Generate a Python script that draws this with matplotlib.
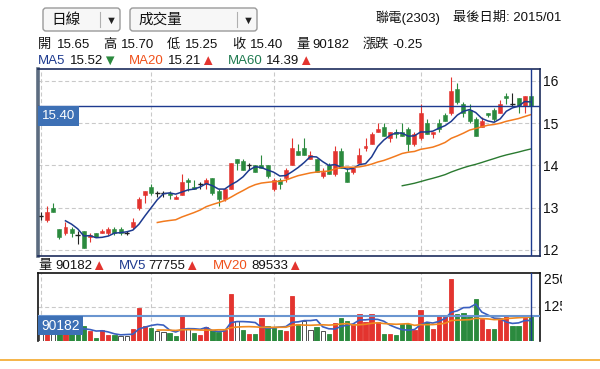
import numpy as np
import pandas as pd
import matplotlib
matplotlib.use("Agg")
import matplotlib.pyplot as plt
import matplotlib.transforms as mtrans
from matplotlib.patches import FancyBboxPatch, Rectangle

plt.rcParams["font.family"] = ["Liberation Sans", "Noto Sans CJK TC", "DejaVu Sans"]

# 聯電(2303) 日線 -- 81 個交易日, 讀自畫面
open_ = [12.80, 12.70, 13.00, 12.50, 12.40, 12.50, 12.35, 12.45, 12.30, 12.40,
         12.40, 12.40, 12.50, 12.50, 12.40, 12.55, 13.00, 13.30, 13.50, 13.35,
         13.35, 13.35, 13.20, 13.30, 13.65, 13.50, 13.55, 13.55, 13.70, 13.40,
         13.20, 13.45, 14.15, 14.10, 14.00, 14.00, 14.00, 14.00, 13.45, 13.65,
         13.70, 14.00, 14.35, 14.40, 14.15, 14.15, 13.75, 14.00, 13.80, 14.35,
         13.85, 13.85, 14.05, 14.40, 14.50, 14.80, 14.90, 14.65, 14.80, 14.80,
         14.85, 14.50, 14.65, 15.00, 14.75, 15.00, 15.20, 15.25, 15.80, 15.45,
         15.30, 15.10, 14.90, 15.25, 15.30, 15.25, 15.65, 15.45, 15.60, 15.40,
         15.65]
high = [12.90, 13.05, 13.10, 12.50, 12.65, 12.55, 12.45, 12.45, 12.40, 12.40,
        12.50, 12.55, 12.55, 12.55, 12.45, 12.75, 13.25, 13.40, 13.55, 13.40,
        13.40, 13.40, 13.30, 13.80, 13.70, 13.65, 13.60, 13.70, 13.70, 13.45,
        13.45, 14.05, 14.15, 14.15, 14.05, 14.00, 14.25, 14.00, 13.70, 13.70,
        13.95, 14.65, 14.50, 14.65, 14.35, 14.15, 13.95, 14.05, 14.45, 14.40,
        13.95, 13.95, 14.40, 14.65, 14.80, 15.00, 15.00, 14.80, 14.85, 15.00,
        14.90, 14.80, 15.45, 15.10, 14.80, 15.10, 15.25, 16.10, 15.95, 15.50,
        15.45, 15.15, 15.15, 15.25, 15.35, 15.55, 15.70, 15.70, 15.60, 15.65,
        15.70]
low = [12.70, 12.65, 12.90, 12.25, 12.35, 12.30, 12.15, 12.05, 12.20, 12.30,
       12.40, 12.35, 12.35, 12.35, 12.35, 12.50, 12.95, 13.10, 13.30, 13.25,
       13.25, 13.20, 13.20, 13.30, 13.40, 13.45, 13.45, 13.45, 13.30, 13.05,
       13.15, 13.45, 13.90, 13.90, 13.90, 13.85, 13.95, 13.70, 13.40, 13.45,
       13.60, 14.00, 14.25, 14.25, 14.15, 13.85, 13.70, 13.80, 13.75, 13.95,
       13.60, 13.80, 14.05, 14.35, 14.50, 14.80, 14.70, 14.55, 14.65, 14.70,
       14.35, 14.45, 14.60, 14.75, 14.65, 14.80, 15.05, 15.20, 15.45, 15.15,
       15.00, 14.70, 14.90, 15.15, 15.05, 15.25, 15.45, 15.40, 15.25, 15.25,
       15.25]
close = [12.80, 12.90, 12.90, 12.30, 12.55, 12.40, 12.35, 12.05, 12.35, 12.30,
         12.45, 12.50, 12.40, 12.40, 12.40, 12.65, 13.20, 13.40, 13.35, 13.35,
         13.35, 13.30, 13.25, 13.60, 13.60, 13.45, 13.55, 13.65, 13.35, 13.20,
         13.45, 14.05, 14.05, 13.90, 14.00, 13.85, 13.95, 13.75, 13.65, 13.55,
         13.90, 14.40, 14.25, 14.25, 14.25, 13.85, 13.85, 13.80, 14.35, 13.95,
         13.60, 13.95, 14.25, 14.45, 14.75, 14.85, 14.70, 14.80, 14.75, 14.70,
         14.50, 14.75, 15.25, 14.75, 14.80, 14.85, 15.05, 15.75, 15.50, 15.25,
         15.05, 14.70, 15.05, 15.20, 15.10, 15.45, 15.60, 15.45, 15.40, 15.65,
         15.40]
# 成交量 (張)
volume = [30000, 45000, 35000, 50000, 40000, 35000, 45000, 55000, 36000, 12000,
          40000, 23000, 21000, 17000, 18000, 45000, 121000, 54000, 48000, 36000,
          33000, 31000, 17000, 97000, 49000, 31000, 21000, 51000, 39000, 33000,
          39000, 174000, 72000, 39000, 27000, 27000, 86000, 55000, 49000, 39000,
          36000, 164000, 64000, 72000, 39000, 51000, 36000, 27000, 67000, 86000,
          74000, 61000, 98000, 70000, 98000, 70000, 27000, 27000, 23000, 61000,
          61000, 39000, 115000, 70000, 45000, 91000, 94000, 227000, 98000, 103000,
          94000, 156000, 80000, 45000, 45000, 86000, 92000, 55000, 55000, 86000,
          90182]

price_ticks = [12, 13, 14, 15, 16]
vol_ticks = [125, 250]
month_starts = [0, 18, 38, 62]
last_price = 15.40
last_volume = 90182

df = pd.DataFrame({"open": open_, "high": high, "low": low,
                   "close": close, "volume": volume})
df["vol_k"] = df.volume / 1000
x = np.arange(len(df))
ma5 = df.close.rolling(5).mean()
ma20 = df.close.rolling(20).mean()
ma60 = df.close.rolling(60).mean()
mv5 = df.vol_k.rolling(5).mean()
mv20 = df.vol_k.rolling(20).mean()

RED = "#e3342f"
GREEN = "#2b8a3e"
NAVY = "#1d3a8f"
BOXBLUE = "#3d70b5"
GRID = dict(color="#c9c9c9", lw=0.8, ls=(0, (3.6, 2.4)))

W, H = 600, 369
fig = plt.figure(figsize=(6, 3.69), dpi=100)


def fax(l, t, r, b):
    return [l / W, 1 - b / H, (r - l) / W, (b - t) / H]


# 背景 (像素座標)
bg = fig.add_axes([0, 0, 1, 1], zorder=-1)
bg.set_xlim(0, W)
bg.set_ylim(H, 0)
bg.axis("off")

ax = fig.add_axes(fax(38, 69, 540, 256))
axv = fig.add_axes(fax(38, 273, 540, 341))

# --- K 線 ---
o, c = df.open.values, df.close.values
ccol = np.where(c > o, RED, np.where(c < o, GREEN, "#222222"))
ax.vlines(x, df.low, df.high, colors=ccol, lw=0.8, zorder=3)
body = np.abs(c - o)
ax.bar(x, body, bottom=np.minimum(o, c), width=0.65, color=ccol,
       edgecolor=ccol, lw=0.4, zorder=4)
flat = c == o
ax.hlines(c[flat], x[flat] - 0.38, x[flat] + 0.38, colors="#222222", lw=1.0, zorder=4)

ax.plot(x, ma5, color=NAVY, lw=1.1, zorder=5)
ax.plot(x, ma20, color="#f27a1e", lw=1.1, zorder=5)
ax.plot(x, ma60, color="#2a7a30", lw=1.0, zorder=5)

ax.set_xlim(-0.49, 81.5)
ax.set_ylim(11.858, 16.279)
ax.set_yticks(price_ticks)
ax.set_xticks([])
ax.yaxis.tick_right()
ax.tick_params(axis="y", length=0, pad=2.2, labelsize=10, labelcolor="#111111")
ax.grid(axis="y", **GRID)
for m in month_starts:
    ax.axvline(m, zorder=1, **GRID)
ax.set_axisbelow(True)

ax.axhline(last_price, color=NAVY, lw=1.0, zorder=6)
ax.axvline(x[-1], color=NAVY, lw=1.0, zorder=6)
tr = mtrans.blended_transform_factory(ax.transAxes, ax.transData)
ax.add_patch(Rectangle((0, last_price - 0.46), 0.082, 0.46, transform=tr,
                       fc=BOXBLUE, ec="none", zorder=7))
ax.text(0.041, last_price - 0.23, f"{last_price:.2f}", transform=tr, ha="center",
        va="center", color="white", fontsize=9.5, zorder=8)

ax.spines["left"].set(lw=2.6, color="#5c6c80")
for s in ("top", "bottom", "right"):
    ax.spines[s].set(lw=1.2, color="#1c2c5c")

# --- 成交量 ---
chg = df.close.diff().fillna(0).values
vfill = np.where(chg > 0, RED, np.where(chg < 0, GREEN, "white"))
vedge = np.where(chg > 0, RED, np.where(chg < 0, GREEN, "#333333"))
axv.bar(x, df.vol_k, width=0.7, color=vfill, edgecolor=vedge, lw=0.6, zorder=3)
axv.plot(x, mv5, color="#3a5fc0", lw=1.2, zorder=5)
axv.plot(x, mv20, color="#f08a20", lw=1.2, zorder=5)
axv.axhline(last_volume / 1000, color="#6a95d0", lw=1.5, zorder=6)
axv.axvline(x[-1], color=NAVY, lw=1.0, zorder=6)

axv.set_xlim(-0.49, 81.5)
axv.set_ylim(0, vol_ticks[-1])
axv.set_xticks([])
axv.set_yticks([])
axv.axhline(vol_ticks[0], zorder=1, **GRID)
for m in month_starts:
    axv.axvline(m, zorder=1, **GRID)
trv = mtrans.blended_transform_factory(axv.transAxes, axv.transData)
axv.add_patch(Rectangle((0, last_volume / 1000 - 68), 0.09, 68, transform=trv,
                        fc=BOXBLUE, ec="none", zorder=7))
axv.text(0.045, last_volume / 1000 - 34, f"{last_volume}", transform=trv,
         ha="center", va="center", color="white", fontsize=10, zorder=8)
axv.text(1.0, vol_ticks[1], f" {vol_ticks[1]}", transform=trv, ha="left",
         va="top", fontsize=10, color="#111111")
axv.text(1.0, vol_ticks[0], f" {vol_ticks[0]}", transform=trv, ha="left",
         va="center", fontsize=10, color="#111111")
axv.spines["bottom"].set_visible(False)
for s in ("top", "left", "right"):
    axv.spines[s].set(lw=1.2, color="#111111")

# --- 表頭 ---
for (bx, bw, label, sep) in [(43, 77, "日線", 100), (130, 127, "成交量", 237)]:
    bg.add_patch(FancyBboxPatch((bx, 8), bw, 23, boxstyle="round,pad=0,rounding_size=3",
                                fc="#f7f7f7", ec="#9a9a9a", lw=1.0))
    bg.plot([sep, sep], [12, 27], color="#b0b0b0", lw=0.8)
    bg.text(bx + 8, 20, label, fontsize=10.5, va="center", color="#111111")
    bg.text(sep + 11, 20.5, "▼", fontsize=8, va="center", ha="center", color="#222222")

bg.text(375, 18, "聯電(2303)", fontsize=9.5, va="center", color="#111111")
bg.text(453, 18, "最後日期: 2015/01", fontsize=9.5, va="center", color="#111111")

row2 = [(38, "開"), (57, "15.65"), (103, "高"), (121, "15.70"), (167, "低"),
        (185, "15.25"), (232, "收"), (250, "15.40"), (296, "量"), (312, "90182"),
        (363, "漲跌"), (392, "-0.25")]
for px, t in row2:
    bg.text(px, 45, t, fontsize=9.5, va="center", color="#111111")

row3 = [(38, "MA5", NAVY), (70, "15.52", "#111111"), (102, "▼", GREEN),
        (129, "MA20", "#f0501a"), (168, "15.21", "#111111"), (200, "▲", RED),
        (228, "MA60", "#1f7a50"), (266, "14.39", "#111111"), (298, "▲", RED)]
for px, t, col in row3:
    bg.text(px, 61, t, fontsize=10.5 if t in "▲▼" else 9.5, va="center", color=col)

rowv = [(38, "量", "#111111"), (55, "90182", "#111111"), (91, "▲", RED),
        (119, "MV5", NAVY), (148, "77755", "#111111"), (184, "▲", RED),
        (213, "MV20", "#f0501a"), (251, "89533", "#111111"), (287, "▲", RED)]
for px, t, col in rowv:
    bg.text(px, 266, t, fontsize=10.5 if t in "▲▼" else 9.5, va="center", color=col)

bg.plot([0, W], [360, 360], color="#f3a82a", lw=1.2)

# 右側截斷
fig.add_artist(Rectangle((562 / W, 1 - 352 / H), 38 / W, 352 / H,
                         transform=fig.transFigure, fc="white", ec="none", zorder=100))

fig.savefig("out.png", dpi=100)
